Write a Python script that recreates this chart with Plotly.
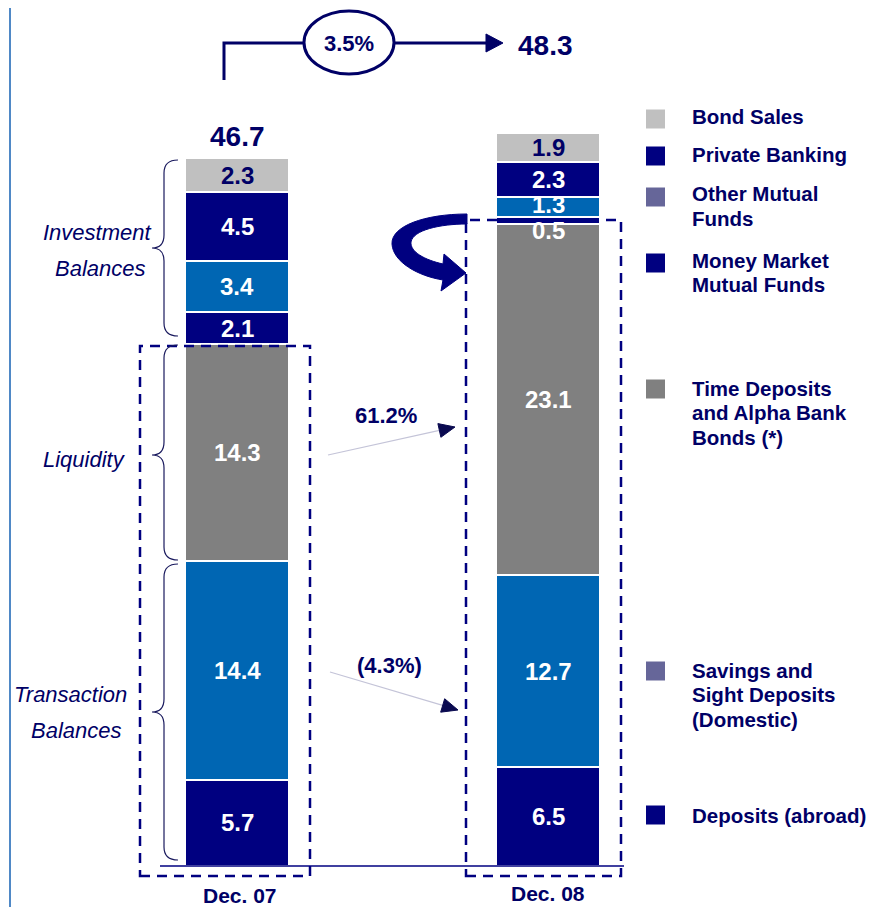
import plotly.graph_objects as go

# The page has an 8px body margin, so the figure is drawn 8px in from the window edge.
PAGE_W, PAGE_H = 876, 915
OFF = 8
W, H = PAGE_W - 2 * OFF, PAGE_H - 2 * OFF

# ---------------- data ----------------
categories = ["Dec. 07", "Dec. 08"]
deposits_abroad = [5.7, 6.5]
savings_sight = [14.4, 12.7]
time_deposits = [14.3, 23.1]
money_market = [2.1, 0.5]
other_mutual = [3.4, 1.3]
private_banking = [4.5, 2.3]
bond_sales = [2.3, 1.9]
totals = [46.7, 48.3]
growth_total = "3.5%"
growth_time = "61.2%"
growth_savings = "(4.3%)"
group_labels = [["Investment", "Balances"], ["Liquidity"], ["Transaction", "Balances"]]
legend_labels = [
    ["Bond Sales"],
    ["Private Banking"],
    ["Other Mutual", "Funds"],
    ["Money Market", "Mutual Funds"],
    ["Time Deposits", "and Alpha Bank", "Bonds (*)"],
    ["Savings and", "Sight Deposits", "(Domestic)"],
    ["Deposits (abroad)"],
]

NAVY = "#000080"
BLUE = "#0066B3"
GRAY = "#808080"
LGRAY = "#C0C0C0"
PURP = "#666699"
TXT = "#000066"
FONT = "Liberation Sans, Arial, sans-serif"

series = [
    ("Deposits (abroad)", deposits_abroad, NAVY, "white"),
    ("Savings and Sight Deposits (Domestic)", savings_sight, BLUE, "white"),
    ("Time Deposits and Alpha Bank Bonds (*)", time_deposits, GRAY, "white"),
    ("Money Market Mutual Funds", money_market, NAVY, "white"),
    ("Other Mutual Funds", other_mutual, BLUE, "white"),
    ("Private Banking", private_banking, NAVY, "white"),
    ("Bond Sales", bond_sales, LGRAY, TXT),
]
label_shift = {("Money Market Mutual Funds", 1): -10, ("Other Mutual Funds", 1): 2}

PX_PER_UNIT = 15.17
BASE_PX = 866          # page pixel of the baseline
BAR_CENTERS = (237, 548)  # page pixels of bar centres


def X(px):
    return (px - OFF) / W


def Y(py):
    return 1 - (py - OFF) / H


def P(x, y):
    return f"{X(x):.5f},{Y(y):.5f}"


unit_x = BAR_CENTERS[1] - BAR_CENTERS[0]
c0 = BAR_CENTERS[0] - OFF
x_range = [-c0 / unit_x, (W - c0) / unit_x]
base_fig = BASE_PX - OFF
y_range = [-(H - base_fig) / PX_PER_UNIT, base_fig / PX_PER_UNIT]

fig = go.Figure()
cum = [0.0, 0.0]
annotations = []
for name, vals, color, tcol in series:
    fig.add_trace(go.Bar(
        x=categories, y=vals, name=name, width=104 / unit_x,
        marker=dict(color=color, line=dict(color="white", width=2)),
        hoverinfo="x+y+name",
    ))
    for i, v in enumerate(vals):
        mid = cum[i] + v / 2
        annotations.append(dict(
            x=categories[i], y=mid, xref="x", yref="y", text=f"<b>{v:.1f}</b>",
            showarrow=False, font=dict(family=FONT, size=24, color=tcol),
            yshift=label_shift.get((name, i), 0),
        ))
        cum[i] += v

annotations.append(dict(x=categories[0], y=totals[0], xref="x", yref="y",
                        text=f"<b>{totals[0]:.1f}</b>", showarrow=False, yshift=21,
                        font=dict(family=FONT, size=28, color=TXT)))


def ann_px(x, y, text, size, bold=True, italic=False, xanchor="center"):
    t = text
    if bold:
        t = f"<b>{t}</b>"
    if italic:
        t = f"<i>{t}</i>"
    annotations.append(dict(x=X(x), y=Y(y), xref="paper", yref="paper", text=t,
                            showarrow=False, xanchor=xanchor, yanchor="middle",
                            font=dict(family=FONT, size=size, color=TXT)))


ann_px(349, 43, growth_total, 22)
ann_px(545, 45, f"{totals[1]:.1f}", 28)
ann_px(240, 895, categories[0], 21)
ann_px(548, 893, categories[1], 21)
ann_px(386, 415, growth_time, 22)
ann_px(389, 665, growth_savings, 22)

ann_px(97, 232, group_labels[0][0], 22, bold=False, italic=True)
ann_px(100, 268, group_labels[0][1], 22, bold=False, italic=True)
ann_px(84, 460, group_labels[1][0], 22, bold=False, italic=True)
ann_px(70, 694, group_labels[2][0], 22, bold=False, italic=True)
ann_px(76, 730, group_labels[2][1], 22, bold=False, italic=True)

legend_colors = [LGRAY, NAVY, PURP, NAVY, GRAY, PURP, NAVY]
legend_sq_y = [119, 156, 197, 263, 389, 671, 815]
legend_txt_y = [117, 155, 194, 260, 388, 670, 815]
shapes = []
for lab, col, sy, ty in zip(legend_labels, legend_colors, legend_sq_y, legend_txt_y):
    shapes.append(dict(type="rect", xref="paper", yref="paper",
                       x0=X(646), x1=X(665), y0=Y(sy + 9.5), y1=Y(sy - 9.5),
                       fillcolor=col, line=dict(width=0)))
    for k, line in enumerate(lab):
        ann_px(690, ty + k * 24.7, line, 20.5, xanchor="left")

# page border on the left
shapes.append(dict(type="line", xref="paper", yref="paper", x0=X(10), x1=X(10), y0=0, y1=1,
                   line=dict(color="#4F88C6", width=2)))

# baseline
shapes.append(dict(type="line", xref="paper", yref="paper", x0=X(160), x1=X(624),
                   y0=Y(866), y1=Y(866), line=dict(color=NAVY, width=1.5)))

# dashed boxes
for (x0, x1, y0, y1) in [(140, 310, 346, 876), (466, 621, 220, 876)]:
    shapes.append(dict(type="rect", xref="paper", yref="paper",
                       x0=X(x0), x1=X(x1), y0=Y(y1), y1=Y(y0),
                       line=dict(color=NAVY, width=2.5, dash="10px,7px")))


def brace(y0, y1, ym, xr=178, xm=164, xt=152, r=13):
    return (f"M {P(xr, y0)} Q {P(xm, y0)} {P(xm, y0 + r)} L {P(xm, ym - r)} "
            f"Q {P(xm, ym)} {P(xt, ym)} Q {P(xm, ym)} {P(xm, ym + r)} "
            f"L {P(xm, y1 - r)} Q {P(xm, y1)} {P(xr, y1)}")


for (y0, y1, ym) in [(160, 336, 248), (345, 560, 455), (564, 860, 712)]:
    shapes.append(dict(type="path", xref="paper", yref="paper", path=brace(y0, y1, ym),
                       line=dict(color="#1A1A5E", width=1.2)))

# top connector with ellipse
shapes.append(dict(type="path", xref="paper", yref="paper",
                   path=f"M {P(224, 80)} L {P(224, 43)} L {P(305, 43)}",
                   line=dict(color=TXT, width=3)))
shapes.append(dict(type="line", xref="paper", yref="paper", x0=X(394), x1=X(488),
                   y0=Y(43), y1=Y(43), line=dict(color=TXT, width=3)))
shapes.append(dict(type="path", xref="paper", yref="paper",
                   path=f"M {P(486, 34)} L {P(503, 43)} L {P(486, 52)} Z",
                   fillcolor=TXT, line=dict(color=TXT, width=1)))
shapes.append(dict(type="circle", xref="paper", yref="paper", x0=X(304), x1=X(394),
                   y0=Y(74), y1=Y(11), fillcolor="white", line=dict(color=TXT, width=3)))


def thin_arrow(x0, y0, x1, y1, L=16, hw=7):
    dx, dy = x1 - x0, y1 - y0
    n = (dx * dx + dy * dy) ** 0.5
    ux, uy = dx / n, dy / n
    bx, by = x1 - ux * L, y1 - uy * L
    nx, ny = -uy, ux
    shapes.append(dict(type="line", xref="paper", yref="paper", x0=X(x0), y0=Y(y0),
                       x1=X(bx), y1=Y(by), line=dict(color="#C4C4D8", width=1.2)))
    shapes.append(dict(type="path", xref="paper", yref="paper",
                       path=f"M {P(x1, y1)} L {P(bx + nx * hw, by + ny * hw)} L {P(bx - nx * hw, by - ny * hw)} Z",
                       fillcolor="#0A0A50", line=dict(color="#0A0A50", width=1)))


thin_arrow(328, 455, 455, 427)
thin_arrow(330, 672, 458, 710)

curve = (f"M {P(467, 214)} C {P(425, 214)} {P(391, 226)} {P(392, 244)} "
         f"C {P(393, 262)} {P(418, 276)} {P(443, 280)} "
         f"L {P(441, 291)} L {P(466, 273)} L {P(444, 254)} L {P(443, 264)} "
         f"C {P(425, 260)} {P(410, 252)} {P(411, 242)} "
         f"C {P(413, 230)} {P(440, 224)} {P(467, 224)} Z")
shapes.append(dict(type="path", xref="paper", yref="paper", path=curve,
                   fillcolor=NAVY, line=dict(color=NAVY, width=1)))

fig.update_layout(
    width=W, height=H, autosize=False,
    margin=dict(l=0, r=0, t=0, b=0),
    barmode="stack", bargap=0,
    showlegend=False,
    paper_bgcolor="white", plot_bgcolor="white",
    xaxis=dict(type="category", categoryorder="array", categoryarray=categories,
               range=x_range, visible=False, fixedrange=True),
    yaxis=dict(range=y_range, visible=False, fixedrange=True),
    shapes=shapes,
    annotations=annotations,
)

fig.write_html("out.html")
